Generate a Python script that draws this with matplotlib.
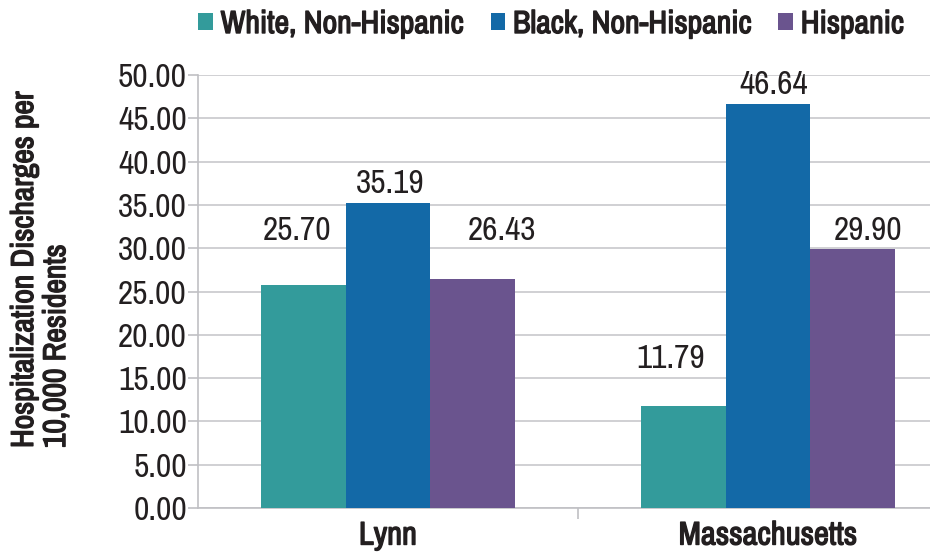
import matplotlib
matplotlib.use("Agg")
import matplotlib.pyplot as plt
import matplotlib.patheffects as pe
import numpy as np
from matplotlib import font_manager
from matplotlib.font_manager import FontProperties

def wnum(f):
    w = f.weight
    if isinstance(w, str):
        return {"normal": 400, "regular": 400, "bold": 700}.get(w, 400)
    return w

tt = font_manager.fontManager.ttflist
named = [f for f in tt if ("Condensed" in f.name or "Narrow" in f.name)]
reg_path = bold_path = None
if named:
    base = named[0].name
    fam = [f for f in named if f.name == base]
    r = [f for f in fam if wnum(f) == 400 and f.style == "normal"] or fam
    reg_path = r[0].fname
    b = [f for f in fam if wnum(f) == 700 and f.style == "normal"]
    if b:
        bold_path = b[0].fname

def fp_reg(size):
    if reg_path:
        return FontProperties(fname=reg_path, size=size)
    return FontProperties(family="DejaVu Sans", stretch="condensed", size=size)

fake_bold = bold_path is None and reg_path is not None
def fp_bold(size):
    if bold_path:
        return FontProperties(fname=bold_path, size=size)
    if reg_path:
        return FontProperties(fname=reg_path, size=size)
    return FontProperties(family="DejaVu Sans", stretch="condensed", weight="bold", size=size)
txt = "#231F20"
bold_fx = [pe.withStroke(linewidth=1.0, foreground=txt)] if fake_bold else []

categories = ["Lynn", "Massachusetts"]
series_names = ["White, Non-Hispanic", "Black, Non-Hispanic", "Hispanic"]
white = [25.70, 11.79]
black = [35.19, 46.64]
hispanic = [26.43, 29.90]
colors = ["#339B9B", "#1369A7", "#6A548E"]
y_ticks = [0, 5, 10, 15, 20, 25, 30, 35, 40, 45, 50]

fig = plt.figure(figsize=(9.3, 5.54), dpi=100)
ax = fig.add_axes([198/930, (554-508)/554, (958-198)/930, (508-75)/554])
ax.set_ylim(0, 50)
ax.set_xlim(-0.5, 1.5)

x = np.arange(len(categories))
w = 0.222
data = [white, black, hispanic]
for i, (vals, c, name) in enumerate(zip(data, colors, series_names)):
    ax.bar(x + (i - 1) * w, vals, w, color=c, label=name, zorder=3)

# label offsets (pixels, baseline above bar top): (category, series) -> (dx, dy)
offsets = {
    (0, 0): (-7, 45), (0, 1): (2, 10), (0, 2): (30, 39),
    (1, 0): (-13, 38), (1, 1): (6, 10), (1, 2): (16, 9),
}
for i, vals in enumerate(data):
    for j, v in enumerate(vals):
        dx, dy = offsets[(j, i)]
        ax.annotate(f"{v:.2f}", (x[j] + (i - 1) * w, v), xytext=(dx, dy),
                    textcoords="offset pixels", ha="center", va="baseline",
                    fontproperties=fp_reg(24), color=txt)

ax.set_yticks(y_ticks)
ax.set_yticklabels([f"{t:.2f}" for t in y_ticks], fontproperties=fp_reg(24), color=txt)
ax.yaxis.grid(True, color="#C8C8CC", linewidth=1.2, zorder=0)
ax.set_axisbelow(True)
ax.set_xticks(x)
ax.set_xticklabels(categories, fontproperties=fp_bold(23.5), color=txt)
for t in ax.get_xticklabels():
    t.set_path_effects(bold_fx)
ax.set_xticks([0.5], minor=True)
ax.tick_params(axis="x", which="major", length=0, pad=9)
ax.tick_params(axis="x", which="minor", length=8, color="#C0C0C4", width=1.2)
ax.tick_params(axis="y", length=7, color="#C0C0C4", width=1.2, pad=1)
for s in ["top", "right"]:
    ax.spines[s].set_visible(False)
for s in ["left", "bottom"]:
    ax.spines[s].set_color("#C0C0C4")
    ax.spines[s].set_linewidth(1.2)

yl = fig.text(40/930, 1 - 448/554, "Hospitalization Discharges per\n10,000 Residents", rotation=90,
              ha="center", va="bottom", multialignment="left", rotation_mode="default",
              fontproperties=fp_bold(22.8), color=txt, linespacing=1.18)
yl.set_path_effects(bold_fx)

leg = fig.legend(loc="center", bbox_to_anchor=(551/930, 1 - 24/554), ncol=3, frameon=False,
                 prop=fp_bold(23), borderpad=0, borderaxespad=0,
                 handlelength=0.45, handleheight=0.45, handletextpad=0.25, columnspacing=0.85)
for t in leg.get_texts():
    t.set_color(txt)
    t.set_path_effects(bold_fx)

fig.savefig("out.png", dpi=100)
